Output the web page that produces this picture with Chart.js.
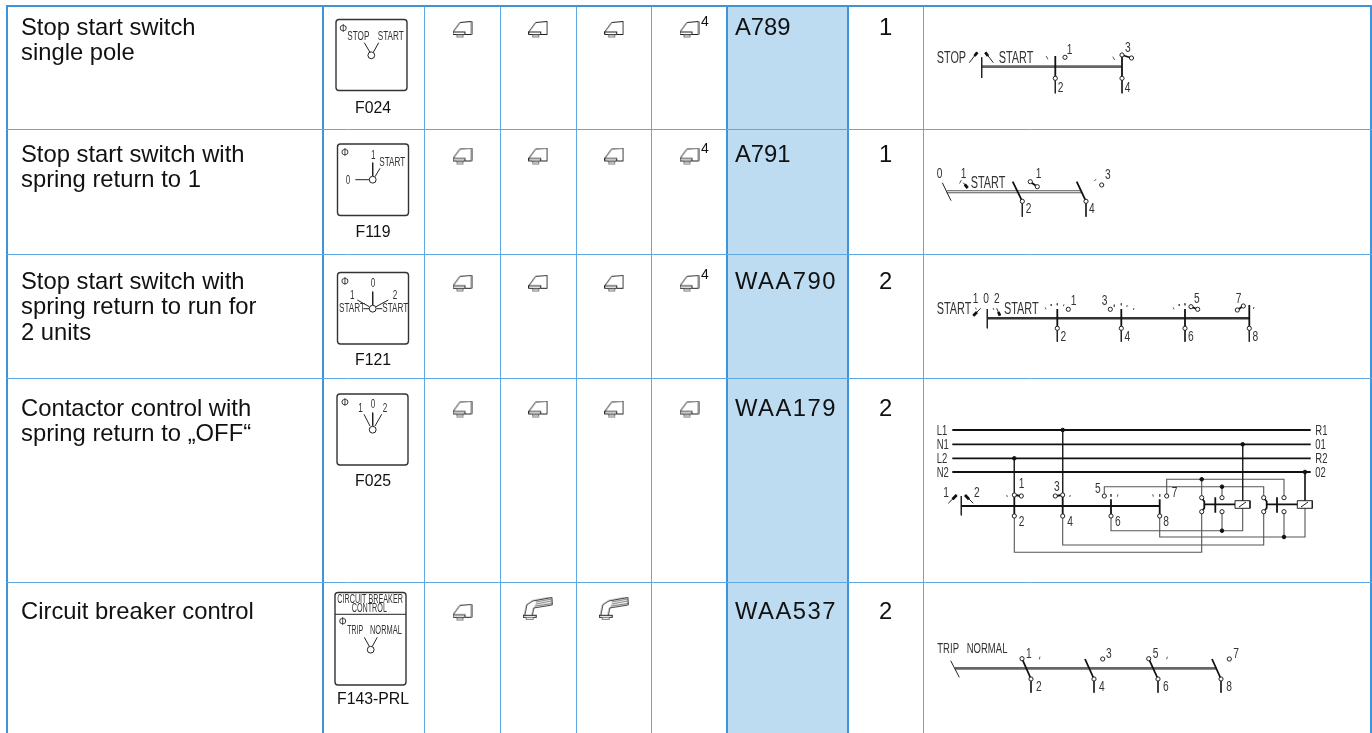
<!DOCTYPE html>
<html>
<head>
<meta charset="utf-8">
<title>Selector switches</title>
<style>
html, body { margin: 0; padding: 0; background: #fff; }
canvas { display: block; }
</style>
<script src="https://cdn.jsdelivr.net/npm/chart.js@4"></script>
</head>
<body>
<canvas id="myChart" width="1372" height="733"></canvas>
<script>
// table content
const descriptions = [
    ['Stop start switch', 'single pole'],
    ['Stop start switch with', 'spring return to 1'],
    ['Stop start switch with', 'spring return to run for', '2 units'],
    ['Contactor control with', 'spring return to \u201eOFF\u201c'],
    ['Circuit breaker control']
];
const faceCodes = ['F024', 'F119', 'F121', 'F025', 'F143-PRL'];
const productCodes = ['A789', 'A791', 'WAA790', 'WAA179', 'WAA537'];
const unitCounts = ['1', '1', '2', '2', '2'];
const handleTypes = [
    ['knob', 'knob', 'knob', 'knob'],
    ['knob', 'knob', 'knob', 'knob'],
    ['knob', 'knob', 'knob', 'knob'],
    ['knob', 'knob', 'knob', 'knob'],
    ['knob', 'lever', 'lever', null]
];
const footnotes = ['4', '4', '4', '', ''];

// table layout, in picture units
const columnEdges = [7, 323, 424.5, 500.3, 576, 651.7, 727.3, 848, 923.7, 1371];
const thickColumns = [7, 323, 727.3, 848, 1371];
const rowEdges = [6, 129, 254, 379, 582];
const handleColumns = [462.5, 538.2, 614.2, 689.5];
const handleRows = [29.5, 156, 283.3, 409, 612.3];
const leverRow = 608.8;
const rowBaselines = [35, 162, 289, 416, 619];
const faceBaselines = [113, 237, 365, 486, 704];
const footnoteBaselines = [26, 153, 279];

// switch faces: left, top, right, bottom
const faceBoxes = [
    [336, 19.5, 407, 90.5],
    [337.5, 144, 408.5, 215.5],
    [337.5, 272.5, 408.5, 344],
    [337, 394, 408, 465],
    [335, 592.5, 406, 685]
];
const faceNeedles = [
    [364.3,42.7, 370,52.3], [378.7,42.7, 373.3,52.3],
    [355.3,179.7, 369.3,179.7], [372.7,162.7, 372.7,176], [380,168.3, 375,176.7],
    [372.7,291.7, 372.7,305], [357.3,300, 369.3,306.7], [388.3,300, 376,306.7], [363.3,308.7, 369.3,308.7], [376.7,308.7, 382.3,308.7],
    [372.7,412.7, 372.7,425.7], [364,414.3, 370,426], [381.7,414.3, 375,426],
    [364.3,637.3, 369.3,646.3], [377.3,637.3, 372.3,646.3],
    [335,614.3, 406,614.3]
];
const faceHubs = [[371.3,55.3], [372.7,179.7], [372.7,308.7], [372.7,429.7], [370.7,649.7]];
// text, x, baseline, size, optional narrowing
const faceLabels = [
    ['STOP',347.3,40,12], ['START',377.7,40,12],
    ['1',371,158.7,12], ['START',379.3,165.7,12], ['0',345.7,184,12],
    ['0',370.7,287.3,12], ['1',350,299.3,12], ['2',392.7,299.3,12], ['START',339,312,12], ['START',382.3,312,12],
    ['1',358.3,411.7,12], ['0',370.7,407.7,12], ['2',382.7,411.7,12],
    ['CIRCUIT BREAKER',337.3,602.7,12,0.6], ['CONTROL',351.7,612.3,12,0.6], ['TRIP',347.3,634,12,0.58], ['NORMAL',370,634,12,0.62],
    ['\u03a6',339.3,31.5,11,0.9], ['\u03a6',341,156,11,0.9], ['\u03a6',341,284.7,11,0.9], ['\u03a6',341,405.7,11,0.9], ['\u03a6',338.7,625,11,0.9]
];

// contact diagrams
const diagramLabels = [
    ['STOP',936.7,62.7,16], ['START',998.7,62.7,16], ['1',1066.7,54,15], ['3',1125,51.7,15], ['2',1057.7,91.7,15], ['4',1124.7,91.7,15],
    ['0',936.7,178.3,15], ['1',960.7,178.3,15], ['START',970.7,188,16], ['1',1035.7,178.3,15], ['3',1105,179.3,15], ['2',1025.7,213.3,15], ['4',1089,213.3,15],
    ['START',936.7,314.3,16], ['1',972.7,303.3,15], ['0',983.3,303.3,15], ['2',994,303.3,15], ['START',1004,314.3,16],
    ['1',1070.7,305,15], ['3',1101.7,305,15], ['5',1194,302.7,15], ['7',1235.7,302.7,15],
    ['2',1060.5,341,15], ['4',1124.5,341,15], ['6',1188,341,15], ['8',1252.5,341,15],
    ['L1',936.7,435,14], ['N1',936.7,449.3,14], ['L2',936.7,463.3,14], ['N2',936.7,477,14],
    ['R1',1315.3,435,14], ['01',1315.3,449.3,14], ['R2',1315.3,463.3,14], ['02',1315.3,477,14],
    ['1',943.3,497,15], ['2',974,497,15], ['1',1018.7,488.3,15], ['3',1054,490.7,15], ['5',1095,493.3,15], ['7',1171.7,497.3,15],
    ['2',1018.7,526,15], ['4',1067.3,526,15], ['6',1115,526,15], ['8',1163.3,526,15],
    ['TRIP',937.3,653.3,14], ['NORMAL',966.7,653.3,14],
    ['1',1026,657.7,15], ['3',1106,657.7,15], ['5',1152.7,657.7,15], ['7',1233.3,657.7,15],
    ['2',1036,691,15], ['4',1099,691,15], ['6',1163,691,15], ['8',1226.3,691,15]
];
const greyBars = [
    [981.7,66.7, 1122,66.7],
    [955,668.3, 1216.7,668.3]
];
const darkBars = [
    [987.3,318.3, 1249.3,318.3]
];
const arrowHeads = [
    [974.5,56, 977.3,52.3], [985.3,52.3, 988,56],
    [964.8,184.5, 967.7,188],
    [973.3,315.7, 977,312], [998.3,312, 1000,315.7],
    [952.5,499.2, 956.7,495], [965,495, 969,499.2]
];
const heavyWires = [
    // row 1
    [1055.3,56, 1055.3,78.3], [1122,55, 1122,78.3], [1122,55, 1131.5,58],
    // row 2
    [1012.7,181.7, 1022.3,201.3], [1076.7,181.7, 1086,201.3], [1030.3,181.7, 1037.3,186.7],
    // row 3
    [1057.3,309, 1057.3,328.3], [1121.3,309, 1121.3,328.3], [1185,309, 1185,328.3], [1249.3,305, 1249.3,328.3],
    [1191,306.7, 1197.7,309.3], [1237.3,310, 1243.3,306],
    // row 4
    [961.3,506, 1160,506],
    [1014.3,495, 1014.3,516], [1062.7,495, 1062.7,516], [1111,499.3, 1111,516], [1159.7,499.3, 1159.7,516],
    [1014.3,495, 1021.3,496], [1062.7,495, 1055.3,496],
    [952.3,430, 1310.7,430], [952.3,444.3, 1310.7,444.3], [952.3,458.3, 1310.7,458.3], [952.3,472, 1310.7,472],
    [1201.7,497.7, 1204.3,501.5, 1204.3,508, 1201.7,511.7], [1263.7,497.7, 1266.7,501.5, 1266.7,508, 1263.7,511.7],
    [1204.3,504.3, 1235,504.3], [1266.7,504.3, 1297.3,504.3], [1215.3,497.3, 1215.3,512.7], [1277,497.3, 1277,512.7],
    // row 5
    [1022,658.7, 1031,679], [1085,659, 1094,679], [1148.7,658.7, 1158,679], [1212,659, 1221,679]
];
const thinWires = [
    // row 1
    [969.3,62.7, 977.3,52.3], [985.3,52.3, 993.3,62.7],
    [981.7,57.3, 981.7,78], [1055.3,78.3, 1055.3,93.3], [1122,78.3, 1122,93.3],
    // row 2
    [963.3,182.7, 967.7,188],
    [942.3,182.7, 951,200.7], [1022.3,201.3, 1022.3,216.7], [1086,201.3, 1086,216.7],
    // row 3
    [973.3,315.7, 980.7,308.3], [996.7,308.3, 1000,315.7],
    [987.3,309, 987.3,328.3], [1057.3,328.3, 1057.3,341.7], [1121.3,328.3, 1121.3,341.7], [1185,328.3, 1185,341.7], [1249.3,328.3, 1249.3,341.7],
    // row 4
    [948.3,503.3, 956.7,495], [965,495, 973.3,503.3],
    [961.3,496, 961.3,515.3], [1062.7,430, 1062.7,495], [1014.3,458.3, 1014.3,495], [1242.7,444.3, 1242.7,500.7], [1305,472, 1305,500.7],
    [1235,500.7, 1250,500.7, 1250,508.3, 1235,508.3, 1235,500.7], [1297.3,500.7, 1312.3,500.7, 1312.3,508.3, 1297.3,508.3, 1297.3,500.7],
    [1239,507, 1246,502], [1301,507, 1308,502],
    // row 5
    [950.7,660.7, 959.3,677.3], [1031,679, 1031,692.7], [1094,679, 1094,692.7], [1158,679, 1158,692.7], [1221,679, 1221,692.7]
];
const greyWires = [
    // double bar of row 2
    [946.7,190.7, 1081.7,190.7], [946.7,192.7, 1081.7,192.7],
    // row 4 cross wiring
    [1014.3,516, 1014.3,552.3, 1201.7,552.3, 1201.7,511.7],
    [1062.7,516, 1062.7,545, 1263.7,545, 1263.7,511.7],
    [1111,516, 1111,530.7, 1242.7,530.7, 1242.7,508.3],
    [1159.7,516, 1159.7,537, 1305,537, 1305,508.3],
    [1104.3,496, 1104.3,486.7, 1263.7,486.7, 1263.7,497.7],
    [1166.7,496, 1166.7,479.3, 1284,479.3, 1284,497.7],
    [1201.7,479.3, 1201.7,497.7], [1222,486.7, 1222,497.7], [1222,511.7, 1222,530.7], [1284,511.7, 1284,537]
];
const contactTicks = [
    [1046,56, 1048,59.3], [1112.7,56.7, 1114.7,60],
    [1094.3,180.7, 1096.3,179.3], [959.5,183.5, 961.5,180],
    [975.5,307.5, 976.3,309.5], [993,308, 994,310], [1045,307.3, 1046,309.3], [1051,304, 1051.3,306], [1057.3,303.3, 1057.3,305.3], [1064,304.3, 1063.3,306.3],
    [1114.3,304.7, 1114.3,306.7], [1121.3,303.3, 1121.3,305.3], [1127.3,305, 1126.7,307], [1134,308, 1133.3,310],
    [1173,307.3, 1174,309.3], [1179,304, 1179.3,306], [1185,303.3, 1185,305.3], [1254,307, 1253.3,309],
    [1006.7,495, 1007.3,497], [1070.3,495, 1069.7,497], [1111,494, 1111,496.7], [1118,494.3, 1117.3,496.7], [1152.7,494.3, 1153.3,496.7], [1159.7,494, 1159.7,496.7],
    [1040,656.7, 1039.3,659.3], [1167.3,656.7, 1166.7,659.3]
];
const openContacts = [
    [1065,57.3], [1055.3,78.3], [1122,55], [1131.5,58], [1122,78.3],
    [1022.3,201.3], [1086,201.3], [1030.3,181.7], [1037.3,186.7], [1101.7,185],
    [1057.3,328.3], [1121.3,328.3], [1185,328.3], [1249.3,328.3], [1068.3,309.3], [1110.3,309.3], [1191,306.7], [1197.7,309.3], [1237.3,310], [1243.3,306],
    [1014.3,495], [1021.3,496], [1062.7,495], [1055.3,496], [1104.3,496], [1166.7,496],
    [1014.3,516], [1062.7,516], [1111,516], [1159.7,516],
    [1201.7,497.7], [1201.7,511.7], [1222,497.7], [1222,511.7], [1263.7,497.7], [1263.7,511.7], [1284,497.7], [1284,511.7],
    [1022,658.7], [1031,679], [1094,679], [1102.7,659], [1148.7,658.7], [1158,679], [1221,679], [1229.3,659]
];
const junctions = [
    [1062.7,430], [1242.7,444.3], [1014.3,458.3], [1305,472],
    [1201.7,479.3], [1222,486.7], [1222,530.7], [1284,537]
];

const MAIN_FONT = '"Liberation Sans", Arial, sans-serif';
const BLUE = '#3f93d9';
const THIN_BLUE = '#5ea8e4';
const CELL_BLUE = '#bddcf1';

function polylines(list) {
    const pts = [];
    list.forEach(line => {
        for (let i = 0; i < line.length; i += 2) {
            pts.push({ x: line[i], y: line[i + 1] });
        }
        pts.push({ x: null, y: null });
    });
    return pts;
}

function wireDataset(list, color, width, order) {
    return {
        data: polylines(list),
        showLine: true,
        spanGaps: false,
        borderColor: color,
        borderWidth: width,
        pointRadius: 0,
        order: order
    };
}

function dotDataset(list, fill, stroke, radius, order) {
    return {
        data: list.map(p => ({ x: p[0], y: p[1] })),
        backgroundColor: fill,
        borderColor: stroke,
        borderWidth: 1,
        pointRadius: radius,
        order: order
    };
}

function makeKnobIcon() {
    const c = document.createElement('canvas');
    c.width = 20;
    c.height = 17;
    const g = c.getContext('2d');
    g.strokeStyle = '#222';
    g.lineWidth = 1;
    g.beginPath();
    g.moveTo(0.5, 11);
    g.lineTo(7.5, 1.5);
    g.lineTo(19, 0.5);
    g.lineTo(19, 13.5);
    g.lineTo(12.5, 13.5);
    g.moveTo(0.5, 11);
    g.lineTo(13, 11);
    g.moveTo(0.5, 11);
    g.lineTo(0.5, 13.5);
    g.lineTo(12.5, 13.5);
    g.lineTo(12.5, 11);
    g.stroke();
    g.strokeStyle = '#777';
    g.strokeRect(4.5, 14, 6, 2);
    return c;
}

function makeLeverIcon() {
    const c = document.createElement('canvas');
    c.width = 31;
    c.height = 24;
    const g = c.getContext('2d');
    g.strokeStyle = '#222';
    g.lineWidth = 1;
    g.beginPath();
    g.moveTo(2, 18);
    g.lineTo(4, 8);
    g.lineTo(10, 4);
    g.lineTo(29, 0.5);
    g.lineTo(29.5, 8);
    g.lineTo(11, 11);
    g.lineTo(9.5, 18);
    g.stroke();
    g.strokeRect(0.5, 18.5, 13, 2);
    g.strokeStyle = '#777';
    g.strokeRect(3.5, 20.5, 7, 2);
    g.beginPath();
    g.moveTo(13, 5);
    g.lineTo(29, 2);
    g.moveTo(13, 7);
    g.lineTo(29, 4);
    g.moveTo(12, 9);
    g.lineTo(29, 6.5);
    g.stroke();
    return c;
}

function handlePoints(type) {
    const pts = [];
    handleTypes.forEach((row, r) => {
        row.forEach((h, c) => {
            if (h === type) {
                pts.push({ x: handleColumns[c], y: type === 'lever' ? leverRow : handleRows[r] });
            }
        });
    });
    return pts;
}

// shaded column, under the grid
const cellShade = {
    id: 'cellShade',
    beforeDraw(chart) {
        const ctx = chart.ctx;
        const xs = chart.scales.x;
        const ys = chart.scales.y;
        ctx.fillStyle = '#fff';
        ctx.fillRect(0, 0, chart.width, chart.height);
        ctx.fillStyle = CELL_BLUE;
        ctx.fillRect(xs.getPixelForValue(727.3), ys.getPixelForValue(6), xs.getPixelForValue(848) - xs.getPixelForValue(727.3), chart.height);
    }
};

// all the text and the switch face outlines
const tableText = {
    id: 'tableText',
    afterDatasetsDraw(chart) {
        const ctx = chart.ctx;
        const xs = chart.scales.x;
        const ys = chart.scales.y;
        const X = v => xs.getPixelForValue(v);
        const Y = v => ys.getPixelForValue(v);

        ctx.save();
        ctx.fillStyle = '#111';
        ctx.textBaseline = 'alphabetic';
        ctx.font = '23.8px ' + MAIN_FONT;
        descriptions.forEach((lines, r) => {
            lines.forEach((line, i) => {
                ctx.fillText(line, X(21), Y(rowBaselines[r] + i * 25.4));
            });
        });
        productCodes.forEach((code, r) => {
            ctx.letterSpacing = code.length > 4 ? '1.5px' : '0px';
            ctx.fillText(code, X(735), Y(rowBaselines[r]));
        });
        ctx.letterSpacing = '0px';
        ctx.textAlign = 'center';
        unitCounts.forEach((n, r) => ctx.fillText(n, X(885.5), Y(rowBaselines[r])));
        ctx.font = '15.8px ' + MAIN_FONT;
        faceCodes.forEach((code, r) => ctx.fillText(code, X(373), Y(faceBaselines[r])));
        ctx.textAlign = 'left';
        ctx.font = '14px ' + MAIN_FONT;
        footnotes.forEach((f, r) => {
            if (f) ctx.fillText(f, X(701), Y(footnoteBaselines[r]));
        });

        ctx.strokeStyle = '#333';
        ctx.lineWidth = 1.4;
        faceBoxes.forEach(b => {
            ctx.beginPath();
            ctx.roundRect(X(b[0]), Y(b[1]), X(b[2]) - X(b[0]), Y(b[3]) - Y(b[1]), 3);
            ctx.stroke();
        });

        // condensed labels, the faces and diagrams use a narrow type
        ctx.fillStyle = '#333';
        faceLabels.concat(diagramLabels).forEach(l => {
            ctx.save();
            ctx.font = l[3] + 'px ' + MAIN_FONT;
            ctx.translate(X(l[1]), Y(l[2]));
            ctx.scale(l[4] || 0.68, 1);
            ctx.fillText(l[0], 0, 0);
            ctx.restore();
        });
        ctx.restore();
    }
};

const gridScale = (edges, thick, min, max) => ({
    type: 'linear',
    min: min,
    max: max,
    afterBuildTicks(scale) {
        scale.ticks = edges.map(v => ({ value: v }));
    },
    ticks: { display: false, autoSkip: false },
    border: { display: false },
    grid: {
        drawTicks: false,
        color: ctx => (ctx.tick && thick.includes(ctx.tick.value) ? BLUE : THIN_BLUE),
        lineWidth: ctx => (ctx.tick && thick.includes(ctx.tick.value) ? 2 : 1)
    }
});

const yScale = gridScale(rowEdges, [6], 5, 733);
yScale.reverse = true;

new Chart(document.getElementById('myChart'), {
    type: 'scatter',
    data: {
        datasets: [
            dotDataset(openContacts, '#fff', '#222', 2.1, 1),
            dotDataset(faceHubs, '#fff', '#222', 3.4, 1),
            dotDataset(junctions, '#111', '#111', 1.8, 1),
            wireDataset(arrowHeads, '#111', 2.8, 2),
            wireDataset(heavyWires, '#111', 1.8, 2),
            wireDataset(faceNeedles, '#222', 1, 3),
            wireDataset(thinWires, '#222', 1, 3),
            wireDataset(contactTicks, '#555', 1, 3),
            wireDataset(greyWires, '#555', 1.1, 4),
            wireDataset(greyBars, '#666', 2.8, 4),
            wireDataset(darkBars, '#333', 2.4, 4),
            { data: handlePoints('knob'), pointStyle: makeKnobIcon(), order: 5 },
            { data: handlePoints('lever'), pointStyle: makeLeverIcon(), order: 5 }
        ]
    },
    options: {
        responsive: false,
        animation: false,
        events: [],
        clip: false,
        layout: { padding: { left: 6, top: 5, right: 0, bottom: 0 }, autoPadding: false },
        plugins: {
            legend: { display: false },
            title: { display: false },
            tooltip: { enabled: false }
        },
        scales: {
            x: gridScale(columnEdges, thickColumns, 6, 1372),
            y: yScale
        }
    },
    plugins: [cellShade, tableText]
});
</script>
</body>
</html>
